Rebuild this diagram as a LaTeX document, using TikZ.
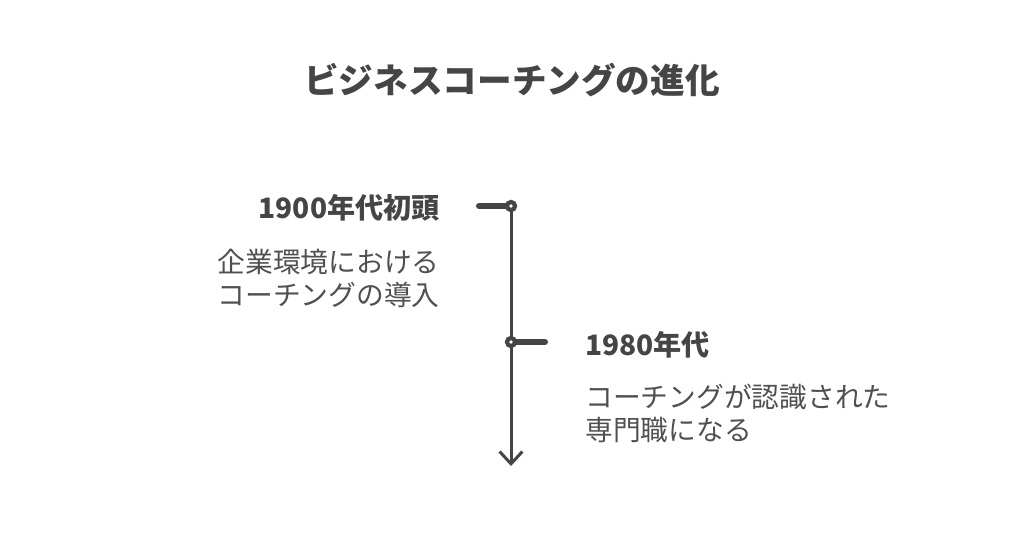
\documentclass[tikz,border=0pt]{standalone}
\usepackage{fontspec}
\setmainfont{Noto Sans CJK JP}
\usetikzlibrary{arrows.meta}
\definecolor{ink}{HTML}{454545}
\definecolor{textgray}{HTML}{505050}

\tikzset{
  heading/.style={font=\fontsize{16}{18}\selectfont\bfseries, text=ink, inner sep=0pt},
  bodytext/.style={font=\fontsize{15.8}{18.7}\selectfont, text=textgray, inner sep=0pt},
  stub/.style={draw=ink, line width=3.4pt, line cap=round},
  knob/.style={draw=ink, fill=white, line width=2.4pt}
}

\begin{document}
\begin{tikzpicture}[x=0.02cm,y=-0.02cm]
  \useasboundingbox (0,0) rectangle (1024,539);

  % title
  \node[font=\fontsize{19.7}{22}\selectfont\bfseries, text=ink] (title) at (512,80) {ビジネスコーチングの進化};

  % time axis
  \coordinate (top) at (511,206);
  \coordinate (mid) at (511,342);
  \coordinate (bot) at (511,466);
  \coordinate (leftend) at (479,206);
  \coordinate (rightend) at (545,342);
  \draw[ink, line width=1.7pt, -{Straight Barb[length=7pt,width=13pt,line width=1.7pt]}] (top) -- (bot);
  \draw[stub] (leftend) -- (top);
  \draw[stub] (mid) -- (rightend);
  \draw[knob] (top) circle (4);
  \draw[knob] (mid) circle (4);

  % events
  \node[heading, anchor=east] (era1) at (440,208) {1900年代初頭};
  \node[bodytext, anchor=east, align=right] (desc1) at (440,278) {企業環境における\\コーチングの導入};
  \node[heading, anchor=west] (era2) at (585,345) {1980年代};
  \node[bodytext, anchor=west, align=left] (desc2) at (585,413) {コーチングが認識された\\専門職になる};
\end{tikzpicture}
\end{document}
